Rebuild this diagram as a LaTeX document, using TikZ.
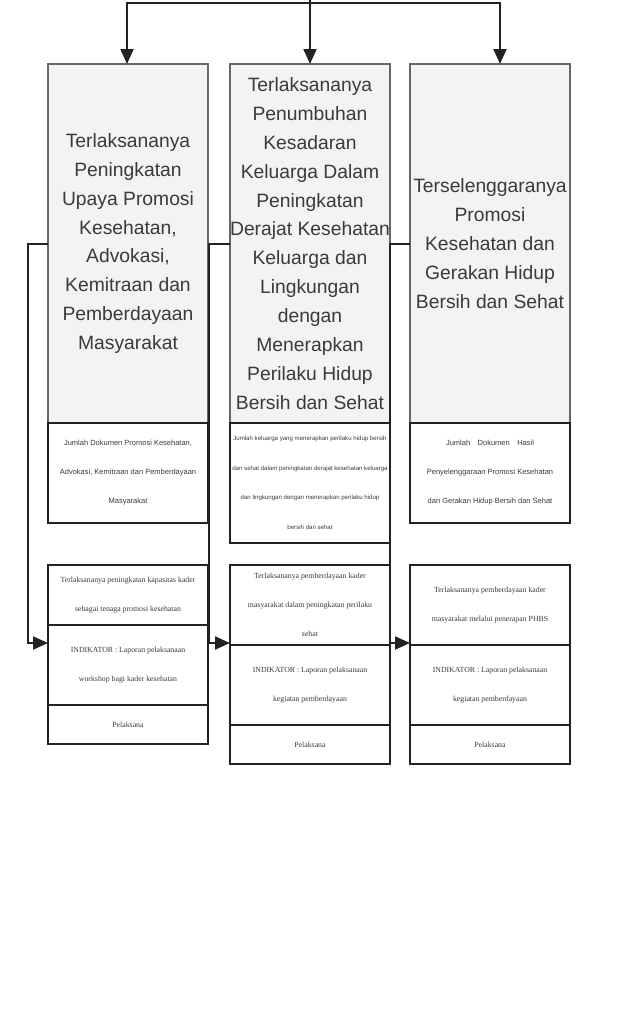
\documentclass[tikz,border=0pt]{standalone}
\usepackage{fontspec}
\setmainfont{Liberation Sans}
\newfontfamily\lserif{Liberation Serif}
\usetikzlibrary{arrows.meta,calc}
\definecolor{boxfill}{HTML}{F3F3F3}
\definecolor{boxline}{HTML}{666666}
\definecolor{txt}{HTML}{3A3A3A}
\definecolor{edge}{HTML}{222222}
\begin{document}
\begin{tikzpicture}[x=1pt,y=-1pt,
  bigbox/.style={draw=boxline, fill=boxfill, line width=1.3pt, minimum width=160pt, minimum height=359pt,
    anchor=north west, inner sep=0pt, outer sep=0pt, align=center, text=txt,
    font=\fontsize{19.3}{28.9}\selectfont},
  smallbox/.style={draw=edge, line width=1.6pt, minimum width=160pt, anchor=north west,
    inner sep=0pt, outer sep=0pt, align=center, text=txt, font=\fontsize{7.5}{29}\selectfont},
  tinybox/.style={smallbox, font=\fontsize{6.1}{29.6}\selectfont},
  lowbox/.style={smallbox, font=\lserif\fontsize{7.8}{28.7}\selectfont},
  conn/.style={line width=2pt, draw=edge},
  arr/.style={conn, -{Triangle[length=15pt,width=13pt]}}]
\useasboundingbox (0,0) rectangle (618,1009);

% top boxes
\node[bigbox] (t1) at (48,64) {Terlaksananya\\Peningkatan\\Upaya Promosi\\Kesehatan,\\Advokasi,\\Kemitraan dan\\Pemberdayaan\\Masyarakat};
\node[bigbox] (t2) at (230,64) {Terlaksananya\\Penumbuhan\\Kesadaran\\Keluarga Dalam\\Peningkatan\\Derajat Kesehatan\\Keluarga dan\\Lingkungan\\dengan\\Menerapkan\\Perilaku Hidup\\Bersih dan Sehat};
\node[bigbox] (t3) at (410,64) {Terselenggaranya\\Promosi\\Kesehatan dan\\Gerakan Hidup\\Bersih dan Sehat};

% indicator boxes
\node[smallbox, minimum height=100pt] (s1) at (48,423) {Jumlah Dokumen Promosi Kesehatan,\\Advokasi, Kemitraan dan Pemberdayaan\\Masyarakat};
\node[tinybox, minimum height=120pt] (s2) at (230,423) {Jumlah keluarga yang menerapkan perilaku hidup bersih\\dan sehat dalam peningkatan derajat kesehatan keluarga\\dan lingkungan dengan menerapkan perilaku hidup\\bersih dan sehat};
\node[smallbox, minimum height=100pt] (s3) at (410,423) {Jumlah\quad Dokumen\quad Hasil\\Penyelenggaraan Promosi Kesehatan\\dan Gerakan Hidup Bersih dan Sehat};

% lower group, column 1
\node[lowbox, minimum height=60pt] (l1a) at (48,565) {Terlaksananya peningkatan kapasitas kader\\sebagai tenaga promosi kesehatan};
\node[lowbox, minimum height=80pt] (l1b) at (48,625) {INDIKATOR : Laporan pelaksanaan\\workshop bagi kader kesehatan};
\node[lowbox, minimum height=39pt] (l1c) at (48,705) {Pelaksana};

% lower group, column 2
\node[lowbox, minimum height=80pt] (l2a) at (230,565) {Terlaksananya pemberdayaan kader\\masyarakat dalam peningkatan perilaku\\sehat};
\node[lowbox, minimum height=80pt] (l2b) at (230,645) {INDIKATOR : Laporan pelaksanaan\\kegiatan pemberdayaan};
\node[lowbox, minimum height=39pt] (l2c) at (230,725) {Pelaksana};

% lower group, column 3
\node[lowbox, minimum height=80pt] (l3a) at (410,565) {Terlaksananya pemberdayaan kader\\masyarakat melalui penerapan PHBS};
\node[lowbox, minimum height=80pt] (l3b) at (410,645) {INDIKATOR : Laporan pelaksanaan\\kegiatan pemberdayaan};
\node[lowbox, minimum height=39pt] (l3c) at (410,725) {Pelaksana};

% top distribution connectors
\coordinate (src) at (310,0);
\coordinate (bus) at (310,3);
\draw[conn] (src) -- (bus);
\draw[arr] (bus) -| ($(t1.north)+(-1,0)$);
\draw[arr] (bus) -- (t2.north);
\draw[arr] (bus) -| ($(t3.north)+(10,0)$);

% side connectors
\coordinate (lvl) at (0,643);
\draw[arr] (t1.west) -- ++(-20,0) |- (l1b.west |- lvl);
\draw[arr] (t2.west) -- ++(-21,0) |- (l2a.west |- lvl);
\draw[arr] (t3.west) -- ++(-20,0) |- (l3a.west |- lvl);
\end{tikzpicture}
\end{document}
